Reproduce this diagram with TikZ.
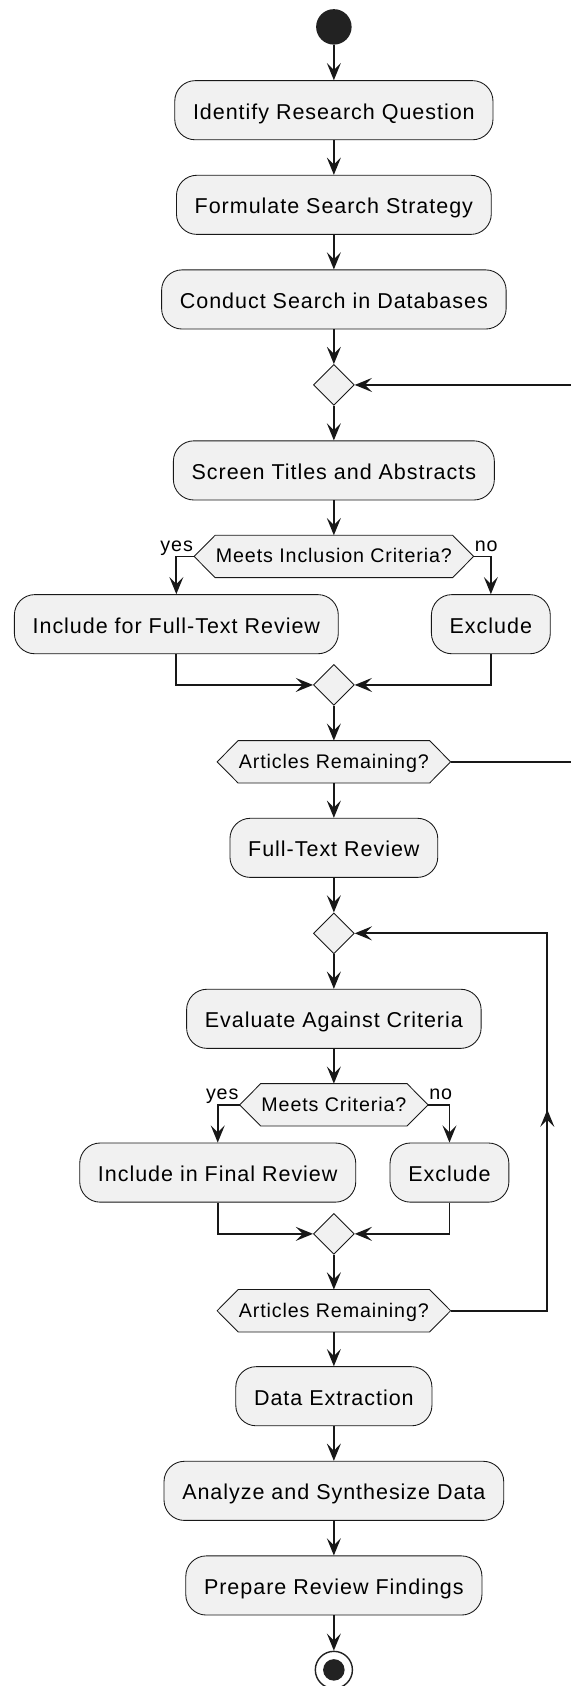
\documentclass[tikz,border=0pt]{standalone}
\usepackage{fontspec}
\setmainfont{Liberation Sans}[LetterSpace=4.5]
\usetikzlibrary{arrows.meta,shapes.geometric,backgrounds,decorations.markings}
\definecolor{lineC}{HTML}{181818}
\definecolor{fillC}{HTML}{F1F1F1}
\definecolor{dotC}{HTML}{222222}
\tikzset{
  stepbox/.style={draw=lineC, line width=0.8pt, fill=fillC, rounded corners=19pt,
    minimum height=55pt, inner xsep=17pt, inner ysep=0pt, text height=18.4pt, text depth=2pt,
    font=\fontsize{20pt}{24pt}\selectfont},
  hextext/.style={minimum height=39pt, inner xsep=0.5pt, inner ysep=0pt, text height=13.85pt,
    text depth=2pt, font=\fontsize{18.3pt}{22pt}\selectfont},
  hexshape/.style={draw=lineC, line width=0.8pt, fill=fillC},
  merge/.style={diamond, draw=lineC, line width=0.8pt, fill=fillC, minimum width=38pt,
    minimum height=38pt, inner sep=0pt},
  arr/.style={draw=lineC, line width=1.7pt, -{Stealth[length=16pt,width=13pt,inset=6.5pt]}},
  lbl/.style={font=\fontsize{18.3pt}{22pt}\selectfont, inner sep=0pt},
}
\begin{document}
\begin{tikzpicture}[x=1pt,y=-1pt]
\useasboundingbox (0,0) rectangle (531,1568);
% nodes
\node[circle, fill=dotC, minimum size=33pt, inner sep=0pt] (start) at (310.5,25) {};
\node[stepbox] (b1) at (310.5,102.5) {Identify Research Question};
\node[stepbox] (b2) at (310.5,190.5) {Formulate Search Strategy};
\node[stepbox] (b3) at (310.5,278.5) {Conduct Search in Databases};
\node[merge] (d1) at (310.5,358) {};
\node[stepbox] (b4) at (310.5,437.5) {Screen Titles and Abstracts};
\node[hextext] (h1) at (310.5,517.5) {Meets Inclusion Criteria?};
\node[stepbox] (b5) at (164,580.5) {Include for Full-Text Review};
\node[stepbox] (b6) at (456.5,580.5) {Exclude};
\node[merge] (d2) at (310.5,637) {};
\node[hextext] (h2) at (310.5,708.5) {Articles Remaining?};
\node[stepbox] (b7) at (310.5,788.5) {Full-Text Review};
\node[merge] (d3) at (310.5,868) {};
\node[stepbox] (b8) at (310.5,947.5) {Evaluate Against Criteria};
\node[hextext] (h3) at (310.5,1027.5) {Meets Criteria?};
\node[stepbox] (b9) at (202.5,1090.5) {Include in Final Review};
\node[stepbox] (b10) at (418,1090.5) {Exclude};
\node[merge] (d4) at (310.5,1147.5) {};
\node[hextext] (h4) at (310.5,1219) {Articles Remaining?};
\node[stepbox] (b11) at (310.5,1298.5) {Data Extraction};
\node[stepbox] (b12) at (310.5,1386.5) {Analyze and Synthesize Data};
\node[stepbox] (b13) at (310.5,1474.5) {Prepare Review Findings};
\node[circle, draw=dotC, line width=1.3pt, fill=white, minimum size=34.5pt, inner sep=0pt] (stop) at (310.5,1553) {};
\node[circle, fill=dotC, minimum size=20pt, inner sep=0pt] (stopdot) at (stop.center) {};
% hexagon tips
\coordinate (h1L) at ([xshift=-19.5pt]h1.west);
\coordinate (h1R) at ([xshift=19.5pt]h1.east);
\coordinate (h2L) at ([xshift=-19.5pt]h2.west);
\coordinate (h2R) at ([xshift=19.5pt]h2.east);
\coordinate (h3L) at ([xshift=-19.5pt]h3.west);
\coordinate (h3R) at ([xshift=19.5pt]h3.east);
\coordinate (h4L) at ([xshift=-19.5pt]h4.west);
\coordinate (h4R) at ([xshift=19.5pt]h4.east);
\coordinate (lp1) at (532,0);
\coordinate (lp2) at (509,0);
\begin{pgfonlayer}{background}
\fill[white] (0,0) rectangle (531,1568);
\draw[hexshape] (h1.north west) -- (h1.north east) -- (h1R) -- (h1.south east) -- (h1.south west) -- (h1L) -- cycle;
\draw[hexshape] (h2.north west) -- (h2.north east) -- (h2R) -- (h2.south east) -- (h2.south west) -- (h2L) -- cycle;
\draw[hexshape] (h3.north west) -- (h3.north east) -- (h3R) -- (h3.south east) -- (h3.south west) -- (h3L) -- cycle;
\draw[hexshape] (h4.north west) -- (h4.north east) -- (h4R) -- (h4.south east) -- (h4.south west) -- (h4L) -- cycle;
\end{pgfonlayer}
% labels
\node[lbl, anchor=base east] (y1) at ([xshift=-1pt,yshift=5pt]h1L) {yes};
\node[lbl, anchor=base west] (n1) at ([xshift=1pt,yshift=5pt]h1R) {no};
\node[lbl, anchor=base east] (y2) at ([xshift=-1pt,yshift=5pt]h3L) {yes};
\node[lbl, anchor=base west] (n2) at ([xshift=1pt,yshift=5pt]h3R) {no};
% connectors
\draw[arr] (start) -- (b1);
\draw[arr] (b1) -- (b2);
\draw[arr] (b2) -- (b3);
\draw[arr] (b3) -- (d1);
\draw[arr] (d1) -- (b4);
\draw[arr] (b4) -- (h1);
\draw[arr] (h1L) -| (b5);
\draw[arr] (h1R) -| (b6);
\draw[arr] (b5) |- (d2);
\draw[arr] (b6) |- (d2);
\draw[arr] (d2) -- (h2);
\draw[arr] (h2R) -- (h2R -| lp1) |- (d1);
\draw[arr] (h2) -- (b7);
\draw[arr] (b7) -- (d3);
\draw[arr] (d3) -- (b8);
\draw[arr] (b8) -- (h3);
\draw[arr] (h3L) -| (b9);
\draw[arr] (h3R) -| (b10);
\draw[arr] (b9) |- (d4);
\draw[arr] (b10) |- (d4);
\draw[arr] (d4) -- (h4);
\draw[arr, postaction={decorate}, decoration={markings, mark=at position 277pt with {\arrow{Stealth[length=16pt,width=13pt,inset=6.5pt]}}}] (h4R) -- (h4R -| lp2) |- (d3);
\draw[arr] (h4) -- (b11);
\draw[arr] (b11) -- (b12);
\draw[arr] (b12) -- (b13);
\draw[arr] (b13) -- (stop);
\end{tikzpicture}
\end{document}
